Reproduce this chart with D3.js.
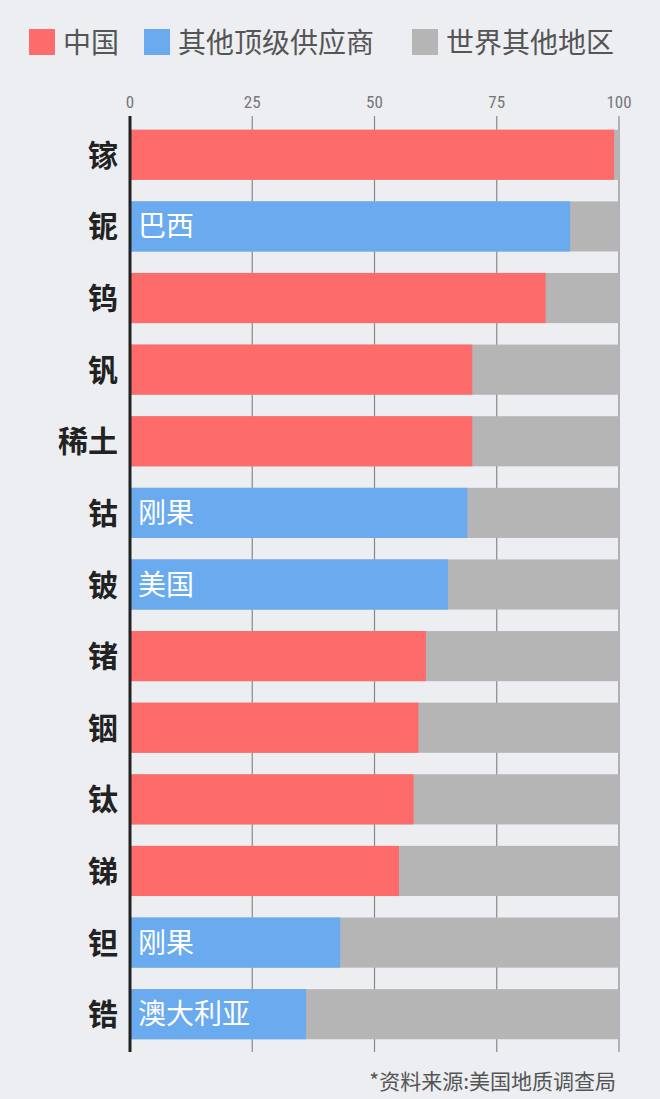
<!DOCTYPE html>
<html><head><meta charset="utf-8">
<script src="https://cdn.jsdelivr.net/npm/d3@7"></script>
<style>body{margin:0;background:#eceef1;font-family:"Noto Sans CJK SC","Noto Sans",sans-serif}</style>
</head><body><div id="chart"></div>
<script>
var minerals = ['镓','铌','钨','钒','稀土','钴','铍','锗','铟','钛','锑','钽','锆'];
var shares = [99, 90, 85, 70, 70, 69, 65, 60.5, 59, 58, 55, 43, 36];
var supplier = ['中国','巴西','中国','中国','中国','刚果','美国','中国','中国','中国','中国','刚果','澳大利亚'];
var ticks = [0, 25, 50, 75, 100];
var legendItems = ['中国','其他顶级供应商','世界其他地区'];
var colors = {china:'#fe6b6b', other:'#6aaaee', rest:'#b5b5b5'};

var width = 660, height = 1099;
var svg = d3.select('#chart').append('svg').attr('width', width).attr('height', height);

var x = d3.scaleLinear().domain([0, 100]).range([130, 619]);
var y = d3.scaleBand().domain(minerals).range([119, 1050]).paddingInner(0.3).paddingOuter(0.15);

// legend
var lx = [29, 144, 412];
var lg = svg.selectAll('.lg').data(legendItems).enter().append('g')
    .attr('transform', function(d, i) { return 'translate(' + lx[i] + ',29)'; });
lg.append('rect').attr('width', 26).attr('height', 26)
    .attr('fill', function(d, i) { return [colors.china, colors.other, colors.rest][i]; });
lg.append('text').attr('x', 34).attr('y', 24).attr('font-size', 28).attr('fill', '#555')
    .text(function(d) { return d; });

// grid + tick labels
svg.selectAll('.grid').data(ticks.slice(1)).enter().append('line')
    .attr('x1', x).attr('x2', x).attr('y1', 116).attr('y2', 1052)
    .attr('stroke', '#888').attr('stroke-width', 1.2);
svg.selectAll('.tl').data(ticks).enter().append('text')
    .attr('x', x).attr('y', 108).attr('text-anchor', 'middle')
    .attr('font-size', 17).attr('fill', '#777').attr('font-family', 'Roboto Condensed, "DejaVu Sans Condensed", sans-serif')
    .text(function(d) { return d; });

var rows = svg.selectAll('.row').data(minerals).enter().append('g');
rows.append('rect').attr('x', x(0)).attr('width', x(100) - x(0))
    .attr('y', function(d) { return y(d); }).attr('height', y.bandwidth()).attr('fill', colors.rest);
rows.append('rect').attr('x', x(0))
    .attr('width', function(d, i) { return x(shares[i]) - x(0); })
    .attr('y', function(d) { return y(d); }).attr('height', y.bandwidth())
    .attr('fill', function(d, i) { return supplier[i] === '中国' ? colors.china : colors.other; });
rows.append('text').attr('x', 118).attr('y', function(d) { return y(d) + y.bandwidth() / 2 + 11; })
    .attr('text-anchor', 'end').attr('font-size', 30).attr('font-weight', 'bold').attr('fill', '#222')
    .text(function(d) { return d; });
rows.filter(function(d, i) { return supplier[i] !== '中国'; }).append('text')
    .attr('x', 138).attr('y', function(d) { return y(d) + y.bandwidth() / 2 + 10; })
    .attr('font-size', 28).attr('fill', '#fff')
    .text(function(d) { return supplier[minerals.indexOf(d)]; });

svg.append('line').attr('x1', 130).attr('x2', 130).attr('y1', 116).attr('y2', 1052)
    .attr('stroke', '#222').attr('stroke-width', 3);

svg.append('text').attr('x', 616).attr('y', 1089).attr('text-anchor', 'end')
    .attr('font-size', 21).attr('fill', '#555').text('*资料来源:美国地质调查局');
</script></body></html>
